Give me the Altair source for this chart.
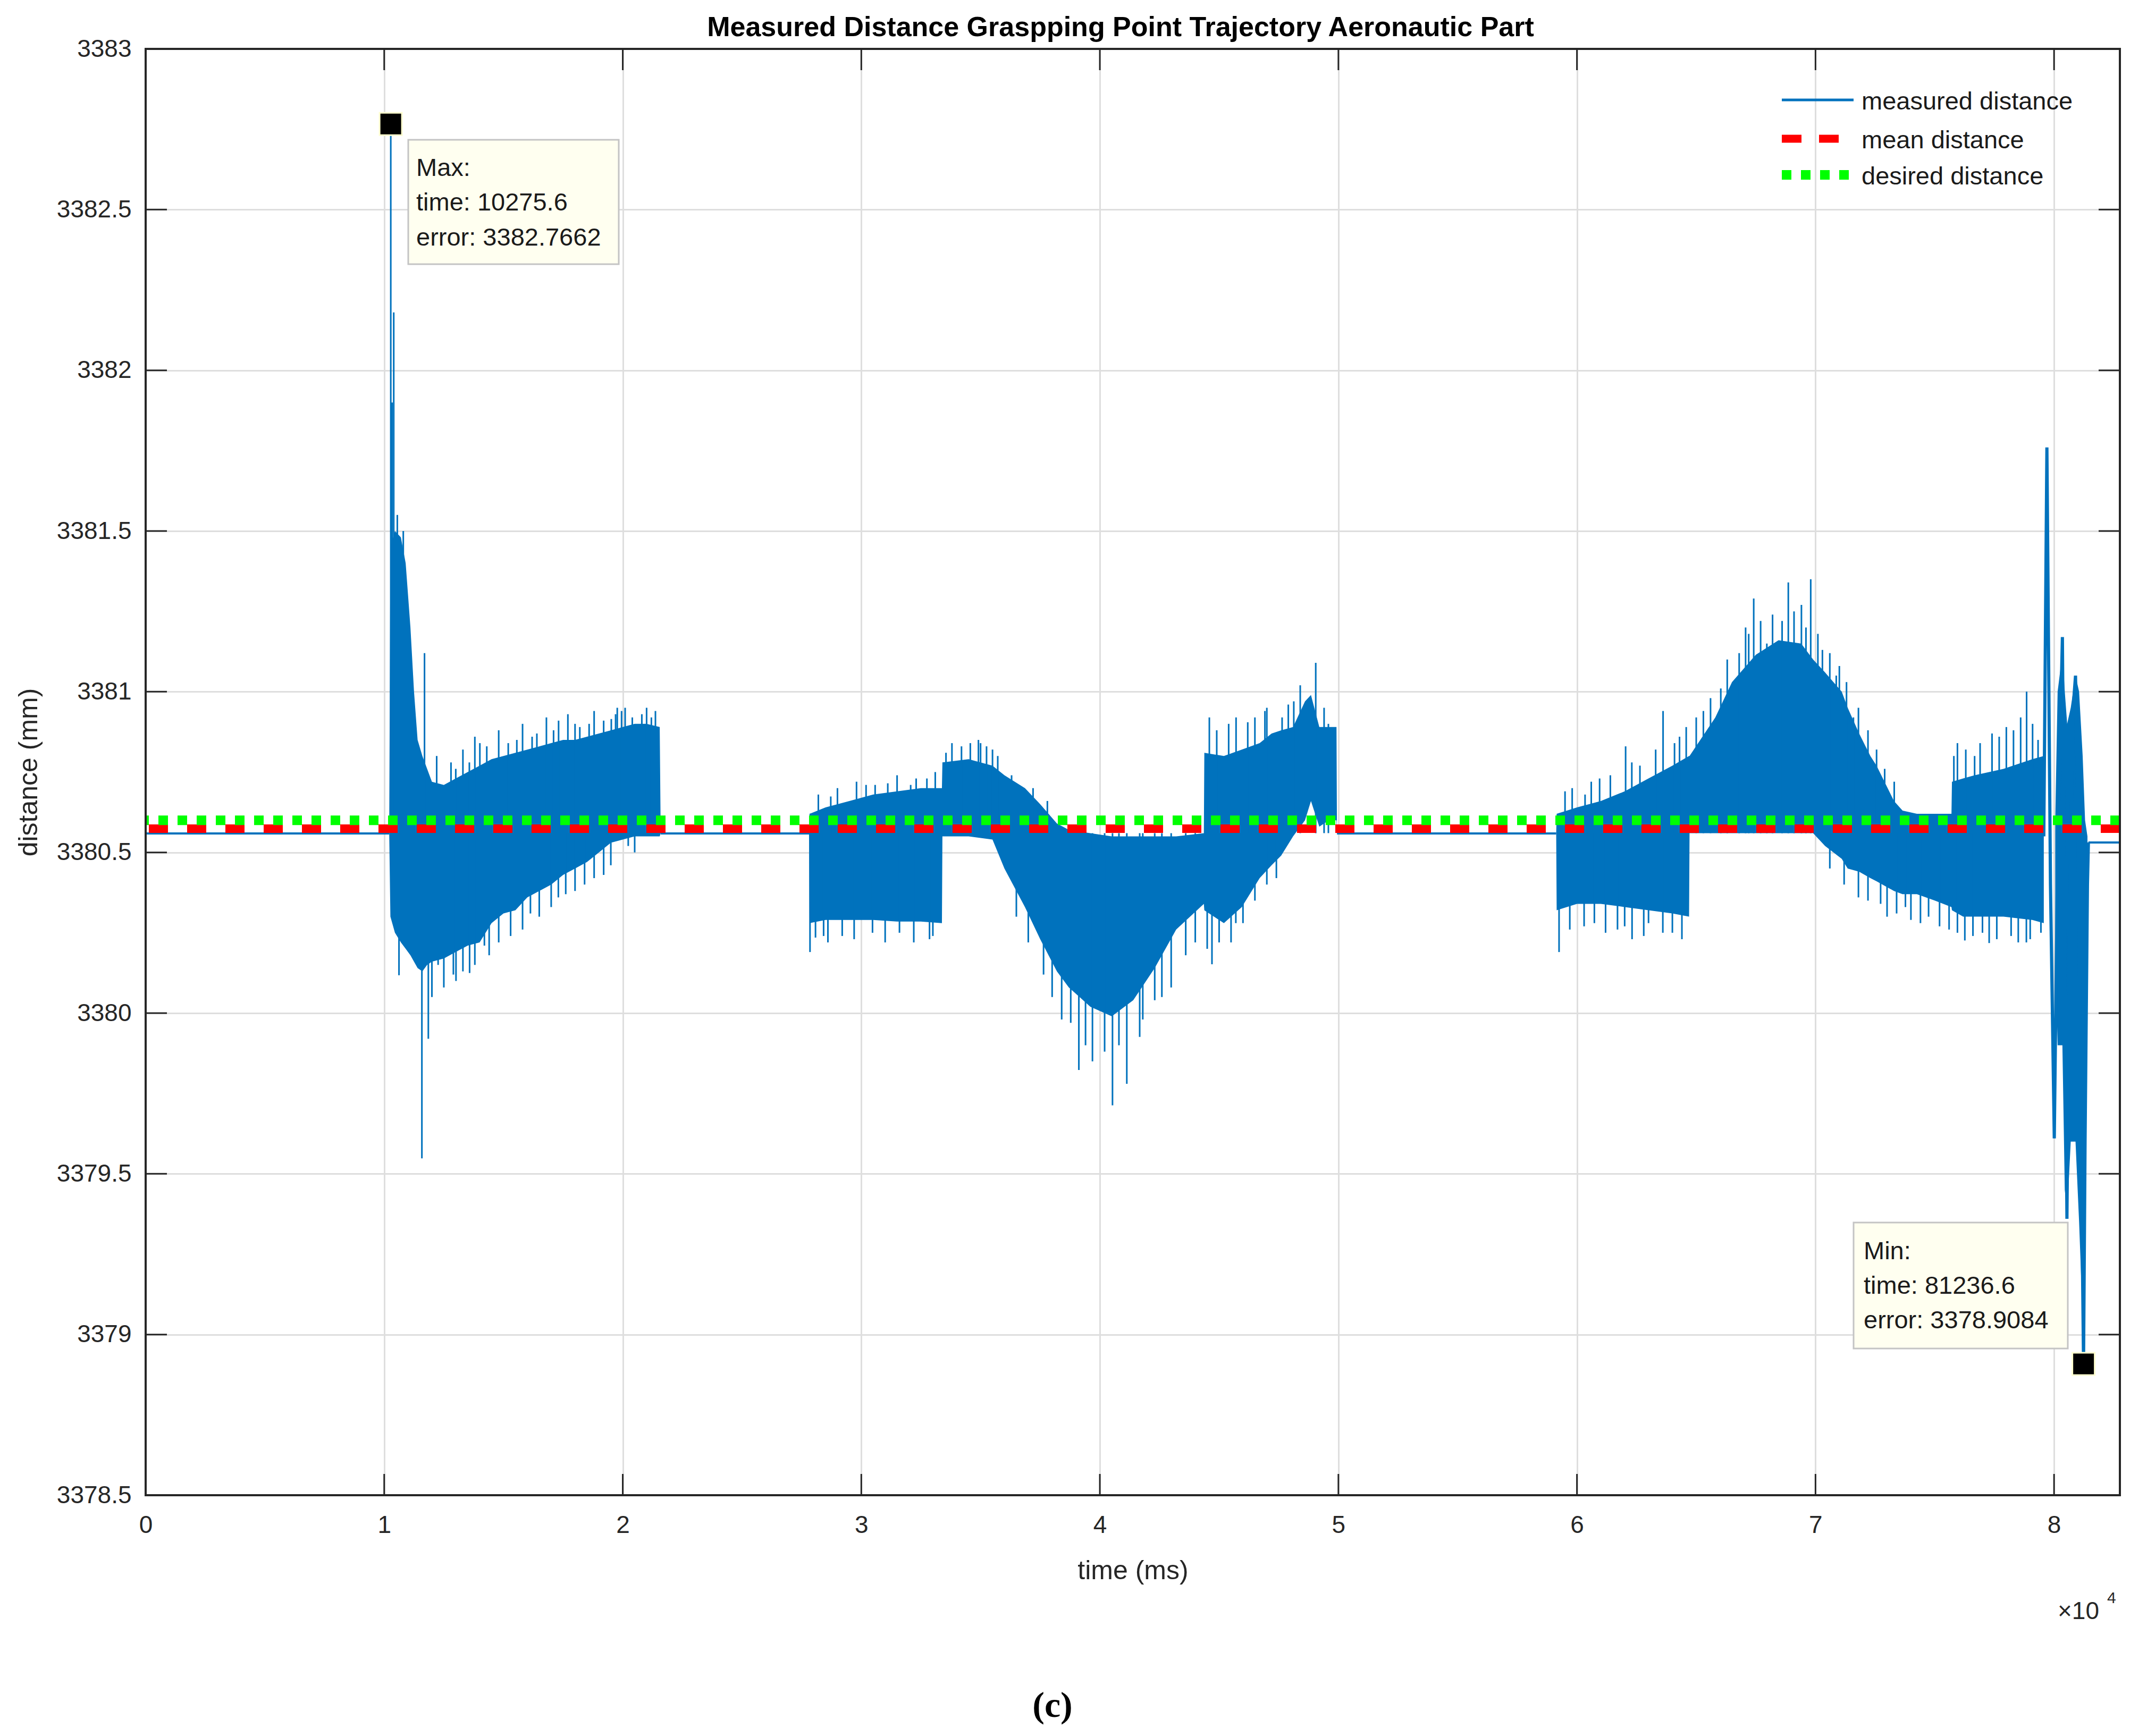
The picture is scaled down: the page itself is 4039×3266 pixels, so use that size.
import altair as alt
import pandas as pd

# ---------------- values ----------------
title_text = "Measured Distance Graspping Point Trajectory Aeronautic Part"
x_title = "time (ms)"
y_title = "distance (mm)"
legend_labels = ["measured distance", "mean distance", "desired distance"]

x_tick_values = [0, 10000, 20000, 30000, 40000, 50000, 60000, 70000, 80000]
y_tick_values = [3378.5, 3379.0, 3379.5, 3380.0, 3380.5, 3381.0, 3381.5, 3382.0, 3382.5, 3383.0]
x_domain = [0, 82760]
y_domain = [3378.5, 3383.0]

mean_distance = 3380.574
desired_distance = 3380.600

# robot at rest: flat parts of the measured distance (time ms, distance mm)
flat_part = [0, 0, 1, 1, 2, 2, 3, 3]
flat_t = [0, 10210, 21590, 27810, 49940, 59130, 81440, 82760]
flat_v = [3380.559, 3380.559, 3380.559, 3380.559, 3380.559, 3380.559, 3380.531, 3380.531]

# robot moving: envelope of the dense oscillation (time, upper, lower)
seg1 = [(10210, 3380.56, 3380.56), (10260, 3381.45, 3380.30), (10450, 3381.50, 3380.25),
        (10700, 3381.48, 3380.22), (10900, 3381.40, 3380.20), (11100, 3381.20, 3380.18),
        (11250, 3381.00, 3380.16), (11400, 3380.85, 3380.14), (11600, 3380.80, 3380.13),
        (11800, 3380.76, 3380.15), (12000, 3380.72, 3380.16), (12500, 3380.71, 3380.17),
        (13000, 3380.73, 3380.19), (13500, 3380.75, 3380.21), (14000, 3380.77, 3380.22),
        (14500, 3380.79, 3380.28), (15000, 3380.80, 3380.31), (15500, 3380.81, 3380.32),
        (16000, 3380.82, 3380.36), (16500, 3380.83, 3380.38), (17000, 3380.84, 3380.40),
        (17500, 3380.85, 3380.43), (18000, 3380.85, 3380.45), (18500, 3380.86, 3380.47),
        (19000, 3380.87, 3380.50), (19500, 3380.88, 3380.53), (20000, 3380.89, 3380.54),
        (20500, 3380.90, 3380.55), (21000, 3380.90, 3380.55), (21550, 3380.89, 3380.55),
        (21590, 3380.56, 3380.56)]
seg3 = [(27810, 3380.56, 3380.56), (27830, 3380.62, 3380.28), (28500, 3380.64, 3380.29),
        (29500, 3380.66, 3380.29), (30500, 3380.68, 3380.29), (31500, 3380.69, 3380.285),
        (32500, 3380.70, 3380.285), (33380, 3380.70, 3380.28), (33400, 3380.78, 3380.55),
        (34500, 3380.79, 3380.55), (35500, 3380.77, 3380.54), (36000, 3380.74, 3380.45),
        (36860, 3380.70, 3380.33), (37500, 3380.65, 3380.23), (38200, 3380.59, 3380.13),
        (38700, 3380.57, 3380.08), (39600, 3380.56, 3380.02), (40500, 3380.55, 3379.99),
        (41400, 3380.55, 3380.04), (42300, 3380.55, 3380.14), (43200, 3380.55, 3380.26),
        (44360, 3380.56, 3380.34), (44380, 3380.81, 3380.32), (45200, 3380.80, 3380.28),
        (45950, 3380.82, 3380.33), (46700, 3380.84, 3380.42), (47200, 3380.87, 3380.46),
        (47600, 3380.88, 3380.49), (48100, 3380.89, 3380.55), (48600, 3380.97, 3380.60),
        (48850, 3380.99, 3380.66), (49200, 3380.89, 3380.58), (49600, 3380.89, 3380.60),
        (49920, 3380.89, 3380.60), (49940, 3380.56, 3380.56)]
seg5 = [(59130, 3380.56, 3380.56), (59150, 3380.62, 3380.32), (60000, 3380.64, 3380.34),
        (61000, 3380.66, 3380.34), (62000, 3380.69, 3380.33), (63000, 3380.73, 3380.32),
        (64000, 3380.77, 3380.31), (64700, 3380.80, 3380.30), (64720, 3380.80, 3380.56),
        (65800, 3380.92, 3380.56), (66500, 3381.03, 3380.56), (67500, 3381.115, 3380.56),
        (68450, 3381.16, 3380.56), (69400, 3381.15, 3380.56), (69900, 3381.10, 3380.56),
        (70400, 3381.06, 3380.52), (71100, 3381.00, 3380.48), (71350, 3380.95, 3380.45),
        (71830, 3380.87, 3380.44), (72300, 3380.80, 3380.42), (72560, 3380.77, 3380.41),
        (73290, 3380.66, 3380.38), (73650, 3380.63, 3380.37), (74250, 3380.62, 3380.37),
        (75000, 3380.62, 3380.35), (75700, 3380.62, 3380.33), (75720, 3380.72, 3380.32),
        (76190, 3380.73, 3380.30), (76670, 3380.74, 3380.30), (77880, 3380.76, 3380.30),
        (79090, 3380.79, 3380.29), (79570, 3380.80, 3380.28)]
seg7 = [(80050, 3380.60, 3380.20), (80150, 3381.00, 3379.90), (80350, 3381.12, 3379.90),
        (80450, 3381.00, 3379.45), (80550, 3380.90, 3379.38), (80700, 3380.95, 3379.60),
        (80900, 3381.05, 3379.60), (81050, 3381.00, 3379.35), (81200, 3380.80, 3379.05),
        (81300, 3380.60, 3379.50), (81400, 3380.55, 3380.40)]

# last large swings before the end of the trajectory
burst_t = [79570, 79700, 79850, 80010, 80150, 80350, 80450, 80540, 80650, 80800,
           80900, 81000, 81150, 81236.6, 81300, 81400, 81440]
burst_v = [3380.55, 3381.76, 3380.40, 3379.61, 3380.50, 3381.17, 3380.20, 3379.36, 3380.30, 3380.95,
           3381.05, 3380.60, 3379.50, 3378.9084, 3379.60, 3380.40, 3380.531]

# isolated spikes sticking out of the envelope
spike_t = [10275.6, 10400, 10330, 10550, 10800, 11690, 13000, 13570, 14010, 15560, 16400, 17310,
           18200, 18590, 19520, 19770, 19950, 20800, 21370,
           12200, 12800, 13300, 13800, 14300, 14800, 15200, 15800, 16200, 16800, 17100, 17700,
           18000, 18800, 19200, 19700, 20100, 20400, 21000, 21200,
           10620, 11580, 11850, 12260, 13010, 13580, 14200, 16130, 17610, 19200, 20230,
           12000, 12500, 12900, 13300, 13800, 14400, 14800, 15300, 15800, 16500, 17000, 17300,
           18000, 18400, 18800, 19500, 20500,
           28720, 30580, 31110, 32070, 32750, 33550, 34570, 34910, 35250, 35720, 44590, 45710,
           46200, 46920, 47640, 48130, 49050, 49580,
           28200, 29000, 29800, 30200, 31500, 32300, 33100, 33800, 34200, 35000, 35500,
           36300, 37200, 37800, 44900, 45400, 46500, 47000, 47900, 48400, 49400,
           27850, 28080, 28420, 30470, 32860, 37640, 38780, 39120, 39690, 40530, 41130, 41670,
           42300, 42990, 44700, 45700,
           28600, 29200, 29700, 31000, 31600, 32200, 33000, 36500, 37000, 38000, 38400, 39400,
           40200, 40800, 41800, 42600, 43600, 44000, 44500, 45000, 45500, 46000, 46500, 47000,
           47400,
           59500, 60340, 60950, 62040, 62640, 63610, 64090, 64580, 65300, 66030, 67070, 67410,
           67960, 68860, 69410, 69800, 70290, 70870, 71590, 72560, 75950, 76670, 77400, 78000,
           78850, 79330,
           59800, 60600, 61400, 62300, 63300, 64300, 65000, 65600, 66300, 66800, 67200, 67700,
           68200, 68600, 69100, 69600, 70100, 70600, 71000, 71300, 71800, 72200, 72900, 73300,
           75800, 76300, 76900, 77700, 78300, 78600, 79100,
           59250, 60730, 61700, 62310, 63000, 64000, 72730, 73770, 74740, 75950, 76260, 77280,
           78840, 79450,
           59700, 60300, 61200, 62000, 62800, 63600, 64400, 70600, 71200, 71800, 72200, 73000,
           73400, 74000, 74400, 75200, 75600, 76600, 77000, 77600, 78200, 78500, 79000]
spike_v = [3382.7662, 3382.18, 3381.90, 3381.55, 3381.50, 3381.12, 3380.76, 3380.78, 3380.84, 3380.85,
           3380.87, 3380.91, 3380.89, 3380.90, 3380.915, 3380.95, 3380.94, 3380.93, 3380.94,
           3380.80, 3380.78, 3380.82, 3380.86, 3380.83, 3380.88, 3380.84, 3380.90, 3380.86, 3380.92,
           3380.88, 3380.93, 3380.90, 3380.94, 3380.91, 3380.93, 3380.95, 3380.92, 3380.95, 3380.92,
           3380.118, 3379.548, 3379.92, 3380.15, 3380.10, 3380.125, 3380.21, 3380.31, 3380.37,
           3380.43, 3380.52,
           3380.05, 3380.08, 3380.12, 3380.13, 3380.15, 3380.18, 3380.22, 3380.24, 3380.26, 3380.30,
           3380.33, 3380.36, 3380.38, 3380.40, 3380.42, 3380.46, 3380.50,
           3380.674, 3380.71, 3380.715, 3380.71, 3380.73, 3380.81, 3380.84, 3380.85, 3380.83,
           3380.80, 3380.92, 3380.92, 3380.905, 3380.94, 3380.92, 3380.97, 3381.09, 3380.90,
           3380.68, 3380.70, 3380.72, 3380.71, 3380.74, 3380.73, 3380.75, 3380.84, 3380.83,
           3380.84, 3380.82, 3380.74, 3380.70, 3380.66, 3380.88, 3380.90, 3380.92, 3380.95,
           3380.96, 3381.02, 3380.95,
           3380.19, 3380.235, 3380.24, 3380.25, 3380.23, 3380.12, 3379.97, 3379.823, 3379.85,
           3379.713, 3379.78, 3379.926, 3380.04, 3380.08, 3380.152, 3380.28,
           3380.22, 3380.24, 3380.23, 3380.22, 3380.25, 3380.22, 3380.24, 3380.30, 3380.22,
           3380.05, 3379.98, 3379.90, 3379.88, 3379.90, 3379.98, 3380.05, 3380.18, 3380.22,
           3380.20, 3380.22, 3380.22, 3380.28, 3380.35, 3380.40, 3380.42,
           3380.69, 3380.68, 3380.73, 3380.83, 3380.77, 3380.94, 3380.84, 3380.89, 3380.94,
           3381.01, 3381.20, 3381.29, 3381.15, 3381.34, 3381.27, 3381.35, 3381.13, 3381.05,
           3380.92, 3380.82, 3380.84, 3380.80, 3380.87, 3380.89, 3381.00, 3380.85,
           3380.70, 3380.72, 3380.74, 3380.78, 3380.82, 3380.86, 3380.92, 3380.98, 3381.10,
           3381.12, 3381.18, 3381.22, 3381.24, 3381.22, 3381.25, 3381.20, 3381.18, 3381.12,
           3381.08, 3381.03, 3380.95, 3380.88, 3380.76, 3380.72,
           3380.80, 3380.82, 3380.84, 3380.86, 3380.88, 3380.92, 3380.90,
           3380.19, 3380.28, 3380.26, 3380.23, 3380.28, 3380.25, 3380.34, 3380.33, 3380.30,
           3380.25, 3380.226, 3380.218, 3380.22, 3380.25,
           3380.26, 3380.27, 3380.25, 3380.27, 3380.24, 3380.25, 3380.23, 3380.45, 3380.40,
           3380.36, 3380.35, 3380.30, 3380.31, 3380.29, 3380.28, 3380.27, 3380.26, 3380.24,
           3380.25, 3380.23, 3380.24, 3380.22, 3380.23]
spike_base = 3380.56

# data tips
ext_name = ["Max:", "Min:"]
ext_t = [10275.6, 81236.6]
ext_v = [3382.7662, 3378.9084]

# ---------------- styling ----------------
W, H = 3714, 2721
BLUE = "#0072BD"
AX = "#262626"
FONT = "Liberation Sans"

XS = alt.Scale(domain=x_domain, nice=False, zero=False)
YS = alt.Scale(domain=y_domain, nice=False, zero=False)
AX_X = alt.Axis(values=x_tick_values, labelExpr="format(datum.value / 10000, 'd')",
                labelPadding=34, labelFlush=False, grid=True, titleY=142, titleBaseline="middle")
AX_Y = alt.Axis(values=y_tick_values, format=".1~f", labelPadding=27, labelFlush=False, grid=True,
                titleX=-220, titleY=H / 2, titleBaseline="middle", titleAngle=270)


def X(f):
    return alt.X(f"{f}:Q", scale=XS, axis=AX_X, title=x_title)


def Y(f):
    return alt.Y(f"{f}:Q", scale=YS, axis=AX_Y, title=y_title)


one = pd.DataFrame({"_": [0]})

band_rows = []
for sid, seg in enumerate([seg1, seg3, seg5, seg7]):
    for t, hi, lo in seg:
        band_rows.append({"seg": sid, "t": t, "hi": hi, "lo": lo})
band_df = pd.DataFrame(band_rows)
flat_df = pd.DataFrame({"part": flat_part, "t": flat_t, "v": flat_v})
burst_df = pd.DataFrame({"t": burst_t, "v": burst_v})
spike_df = pd.DataFrame({"t": spike_t, "v": spike_v, "base": [spike_base] * len(spike_t)})
level_df = pd.DataFrame({"mean": [mean_distance], "desired": [desired_distance]})
ext_df = pd.DataFrame({"name": ext_name, "t": ext_t, "v": ext_v})
xt_df = pd.DataFrame({"t": x_tick_values})
yt_df = pd.DataFrame({"v": y_tick_values})

layers = []

band = alt.Chart(band_df).mark_area(color=BLUE, opacity=1, interpolate="linear").encode(
    x=X("t"), y=Y("hi"), y2="lo", detail="seg:N")
flat = alt.Chart(flat_df).mark_line(color=BLUE, strokeWidth=4).encode(
    x=X("t"), y=Y("v"), detail="part:N")
spikes = alt.Chart(spike_df).mark_rule(color=BLUE, strokeWidth=3).encode(
    x=X("t"), y=Y("v"), y2="base")
burst = alt.Chart(burst_df).mark_line(color=BLUE, strokeWidth=6).encode(
    x=X("t"), y=Y("v"))
layers += [band, flat, spikes, burst]

mean_line = alt.Chart(level_df).mark_rule(color="#FF0000", strokeWidth=16, strokeDash=[36, 36]).encode(
    y=Y("mean"))
desired_line = alt.Chart(level_df).mark_rule(color="#00FF00", strokeWidth=18, strokeDash=[18, 18]).encode(
    y=Y("desired"))
layers += [mean_line, desired_line]

# axes box and inward ticks on all four sides
box = alt.Chart(one).mark_rect(fillOpacity=0, stroke=AX, strokeWidth=4).encode(
    x=alt.value(0), x2=alt.value(W), y=alt.value(0), y2=alt.value(H))
tick_b = alt.Chart(xt_df).mark_rule(color=AX, strokeWidth=3).encode(
    x=X("t"), y=alt.value(H), y2=alt.value(H - 40))
tick_t = alt.Chart(xt_df).mark_rule(color=AX, strokeWidth=3).encode(
    x=X("t"), y=alt.value(0), y2=alt.value(40))
tick_l = alt.Chart(yt_df).mark_rule(color=AX, strokeWidth=3).encode(
    y=Y("v"), x=alt.value(0), x2=alt.value(40))
tick_r = alt.Chart(yt_df).mark_rule(color=AX, strokeWidth=3).encode(
    y=Y("v"), x=alt.value(W - 40), x2=alt.value(W))
layers += [box, tick_b, tick_t, tick_l, tick_r]


def text(s, x, y, size=46, **kw):
    params = dict(text=s, fontSize=size, font=FONT, color="#000000", align="left", baseline="middle")
    params.update(kw)
    return alt.Chart(one).mark_text(**params).encode(x=alt.value(x), y=alt.value(y))


# title
layers.append(text(title_text, 1834, -24, size=52, fontWeight="bold", align="center",
                   baseline="alphabetic", color="#000000"))

# legend (no box)
leg_y = [96, 169, 237]
leg_x0, leg_x1 = 3078, 3213
layers.append(alt.Chart(one).mark_rule(color=BLUE, strokeWidth=5).encode(
    x=alt.value(leg_x0), x2=alt.value(leg_x1), y=alt.value(leg_y[0])))
layers.append(alt.Chart(one).mark_rule(color="#FF0000", strokeWidth=15, strokeDash=[37, 33]).encode(
    x=alt.value(leg_x0), x2=alt.value(leg_x1), y=alt.value(leg_y[1])))
layers.append(alt.Chart(one).mark_rule(color="#00FF00", strokeWidth=18, strokeDash=[18, 18]).encode(
    x=alt.value(leg_x0), x2=alt.value(leg_x1), y=alt.value(leg_y[2])))
for lab, ly in zip(legend_labels, leg_y):
    layers.append(text(lab, 3228, ly + 4, size=47, color="#1a1a1a"))

# data tips
tips = [(494, 890, 171, 405, 509, [225, 290, 356]),
        (3213, 3616, 2208, 2445, 3232, [2263, 2328, 2393])]
for i, (x0, x1, y0, y1, tx, rows) in enumerate(tips):
    layers.append(alt.Chart(one).mark_rect(fill="#FFFFF0", stroke="#C4C4C4", strokeWidth=3).encode(
        x=alt.value(x0), x2=alt.value(x1), y=alt.value(y0), y2=alt.value(y1)))
    lines = [ext_name[i], f"time: {ext_t[i]}", f"error: {ext_v[i]}"]
    for s, ry in zip(lines, rows):
        layers.append(text(s, tx, ry, size=47, color="#1a1a1a"))

markers = alt.Chart(ext_df).mark_square(size=1764, color="#000000", fill="#000000", opacity=1,
                                        stroke="#FFFFD0", strokeWidth=3).encode(x=X("t"), y=Y("v"))
layers.append(markers)

# x10^4 exponent and sub-figure label
layers.append(text("\u00d710", 3597, 2940, size=46, color=AX))
layers.append(text("4", 3690, 2915, size=30, color=AX))
layers.append(text("(c)", 1706, 3118, size=68, font="Liberation Serif", fontWeight="bold",
                   align="center"))

chart = alt.layer(*layers).properties(
    width=W, height=H,
    autosize=alt.AutoSizeParams(type="none"),
    padding={"left": 266, "top": 84, "right": 30, "bottom": 440},
    background="white",
).configure_view(stroke=None).configure_axis(
    domain=False, ticks=False, tickSize=0,
    gridColor="#DEDEDE", gridWidth=3, gridOpacity=1,
    labelFont=FONT, labelFontSize=46, labelColor=AX,
    titleFont=FONT, titleFontSize=50, titleColor=AX, titleFontWeight="normal",
)

chart.save("out.html", embed_options={"renderer": "svg", "actions": False})
